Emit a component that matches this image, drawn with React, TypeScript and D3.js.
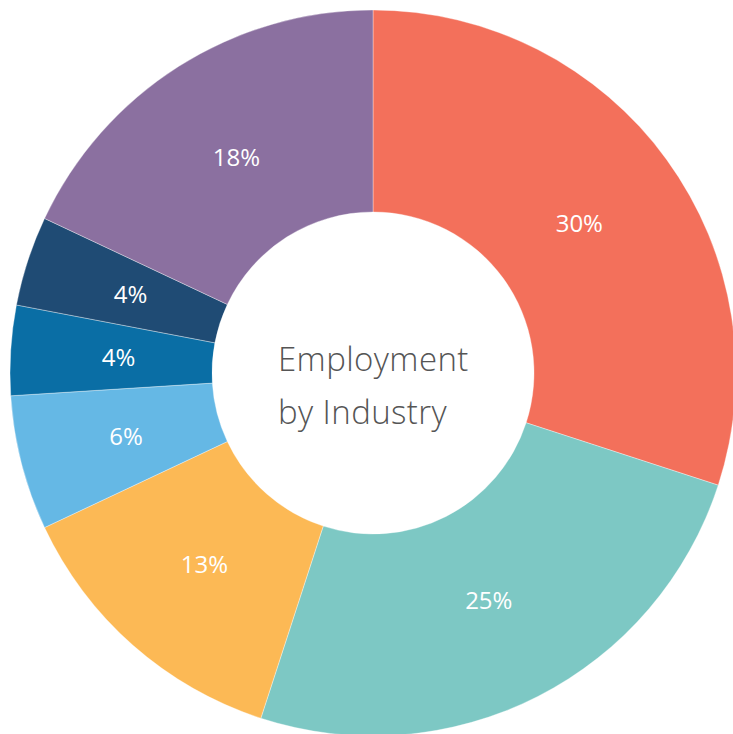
import * as d3 from "d3";
import { useEffect, useRef } from "react";

// slices go clockwise from 12 o'clock
const industries = ["A", "B", "C", "D", "E", "F", "G"];
const shares = [30, 25, 13, 6, 4, 4, 18];
const colors = ["#F3705B", "#7DC8C4", "#FCB955", "#65B8E5", "#0A6EA5", "#1F4B74", "#8B70A0"];
const titleLines = ["Employment", "by Industry"];

export default function App() {
    const svgRef = useRef<SVGSVGElement>(null);

    const width = 733;
    const height = 734;
    const cx = 373;
    const cy = 373;
    const outerR = 363;
    const innerR = 161;
    const labelR = 255;

    useEffect(() => {
        const svg = d3.select(svgRef.current);
        svg.selectAll("*").remove();

        const g = svg.append("g").attr("transform", `translate(${cx},${cy})`);

        const pie = d3.pie<number>().sort(null).value(d => d);
        const arc = d3.arc<d3.PieArcDatum<number>>().innerRadius(innerR).outerRadius(outerR);
        const labelArc = d3.arc<d3.PieArcDatum<number>>().innerRadius(labelR).outerRadius(labelR);

        const arcs = pie(shares);

        g.selectAll("path.slice")
            .data(arcs)
            .join("path")
            .attr("class", "slice")
            .attr("d", arc)
            .attr("fill", (_, i) => colors[i])
            .attr("stroke", "rgba(255,255,255,0.35)")
            .attr("stroke-width", 1)
            .append("title")
            .text((_, i) => industries[i]);

        // percentage labels
        g.selectAll("text.pct")
            .data(arcs)
            .join("text")
            .attr("class", "pct")
            .attr("transform", d => `translate(${labelArc.centroid(d)})`)
            .attr("text-anchor", "middle")
            .attr("dy", "0.36em")
            .attr("fill", "#fff")
            .attr("font-family", "'Open Sans', sans-serif")
            .attr("font-size", 24)
            .text(d => `${d.data}%`);

        // title in the hole, left aligned
        g.append("text")
            .attr("fill", "#555")
            .attr("font-family", "'Open Sans', sans-serif")
            .attr("font-weight", 300)
            .attr("font-size", 33)
            .attr("letter-spacing", 0.4)
            .selectAll("tspan")
            .data(titleLines)
            .join("tspan")
            .attr("x", -95)
            .attr("y", (_, i) => -2 + i * 53)
            .text(d => d);
    }, []);

    return (
        <svg
            ref={svgRef}
            width={width}
            height={height}
            style={{ position: "absolute", left: 0, top: 0, background: "#fff" }}
        />
    );
}
